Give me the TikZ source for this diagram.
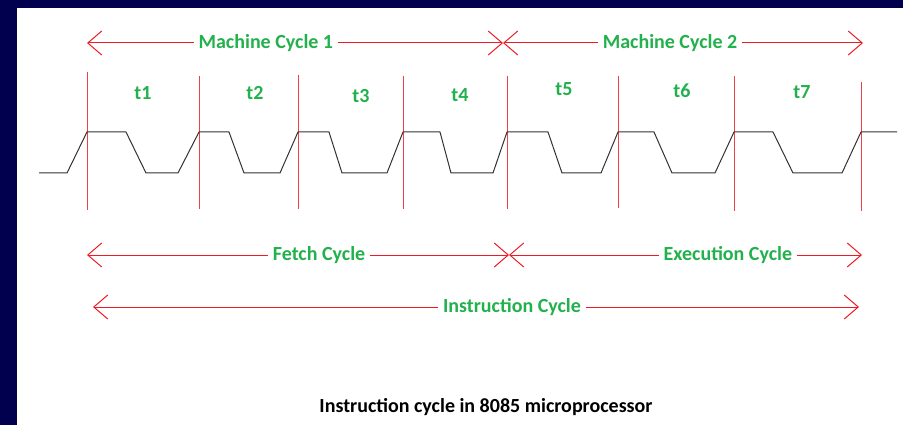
\documentclass[tikz,border=0pt]{standalone}
\usepackage{fontspec}
\setmainfont{Carlito}
\usetikzlibrary{arrows.meta}
\definecolor{cFrame}{HTML}{00004F}
\definecolor{cLbl}{HTML}{22B14C}
\definecolor{cLine}{HTML}{ED1C24}
\definecolor{cTick}{HTML}{EE4048}

\begin{document}
\begin{tikzpicture}[x=1pt, y=-1pt,
  cyc/.style={{Straight Barb[length=14pt,width=24pt]}-{Straight Barb[length=14pt,width=24pt]},draw=cLine,line width=1pt},
  lbl/.style={fill=white,text=cLbl,font=\fontsize{20}{24}\selectfont\bfseries,inner xsep=5pt,inner ysep=1pt},
  tlbl/.style={text=cLbl,font=\fontsize{20}{24}\selectfont\bfseries,inner sep=1pt},
  tickline/.style={draw=cTick,line width=1pt},
  wave/.style={draw=black!80,line width=1pt,line join=round}]
  % frame
  \fill[cFrame] (0,0) rectangle (903,425);
  \fill[white] (17,8) rectangle (903,425);
  \useasboundingbox (0,0) rectangle (903,425);

  % clock edges
  \draw[tickline] (87,72) -- (87,210);
  \draw[tickline] (199,76) -- (199,209);
  \draw[tickline] (298,75) -- (298,209);
  \draw[tickline] (403,76) -- (403,209);
  \draw[tickline] (507,76) -- (507,209);
  \draw[tickline] (618,76) -- (618,208);
  \draw[tickline] (734,76) -- (734,211);
  \draw[tickline] (861,82) -- (861,211);

  % clock
  \draw[wave] (39,173) -- (67,173) -- (87,132) -- (126,132) -- (146,173) -- (178,173)
    -- (199,132) -- (229,132) -- (244,173) -- (280,173) -- (298,132) -- (329,132)
    -- (342,173) -- (387,173) -- (403,132) -- (440,132) -- (451,173) -- (493,173)
    -- (507,132) -- (548,132) -- (562,173) -- (601,173) -- (618,132) -- (654,132)
    -- (672,173) -- (715,173) -- (734,132) -- (773,132) -- (793,173) -- (842,173)
    -- (861,132) -- (897,132);

  \node[tlbl] (t1) at (143,93) {t1};
  \node[tlbl] (t2) at (255,93) {t2};
  \node[tlbl] (t3) at (361,96) {t3};
  \node[tlbl] (t4) at (460,95) {t4};
  \node[tlbl] (t5) at (564,89) {t5};
  \node[tlbl] (t6) at (682,91) {t6};
  \node[tlbl] (t7) at (802,92) {t7};

  % cycles
  \coordinate (mcl) at (87,43);
  \coordinate (mcm) at (503,43);
  \coordinate (mcr) at (863,43);
  \coordinate (fcl) at (87,255);
  \coordinate (fcm) at (509,255);
  \coordinate (ecr) at (862,255);
  \coordinate (icl) at (93,307);
  \coordinate (icr) at (859,307);
  \draw[cyc] (mcl) -- node[lbl,pos=0.43] (mc1) {Machine Cycle 1} (mcm);
  \draw[cyc] (mcm) -- node[lbl,pos=0.464] (mc2) {Machine Cycle 2} (mcr);
  \draw[cyc] (fcl) -- node[lbl,pos=0.55] (fc) {Fetch Cycle} (fcm);
  \draw[cyc] (fcm) -- node[lbl,pos=0.62] (ec) {Execution Cycle} (ecr);
  \draw[cyc] (icl) -- node[lbl,pos=0.547] (ic) {Instruction Cycle} (icr);

  \node[font=\fontsize{20}{24}\selectfont\bfseries] (cap) at (486,407) {Instruction cycle in 8085 microprocessor};
\end{tikzpicture}
\end{document}
